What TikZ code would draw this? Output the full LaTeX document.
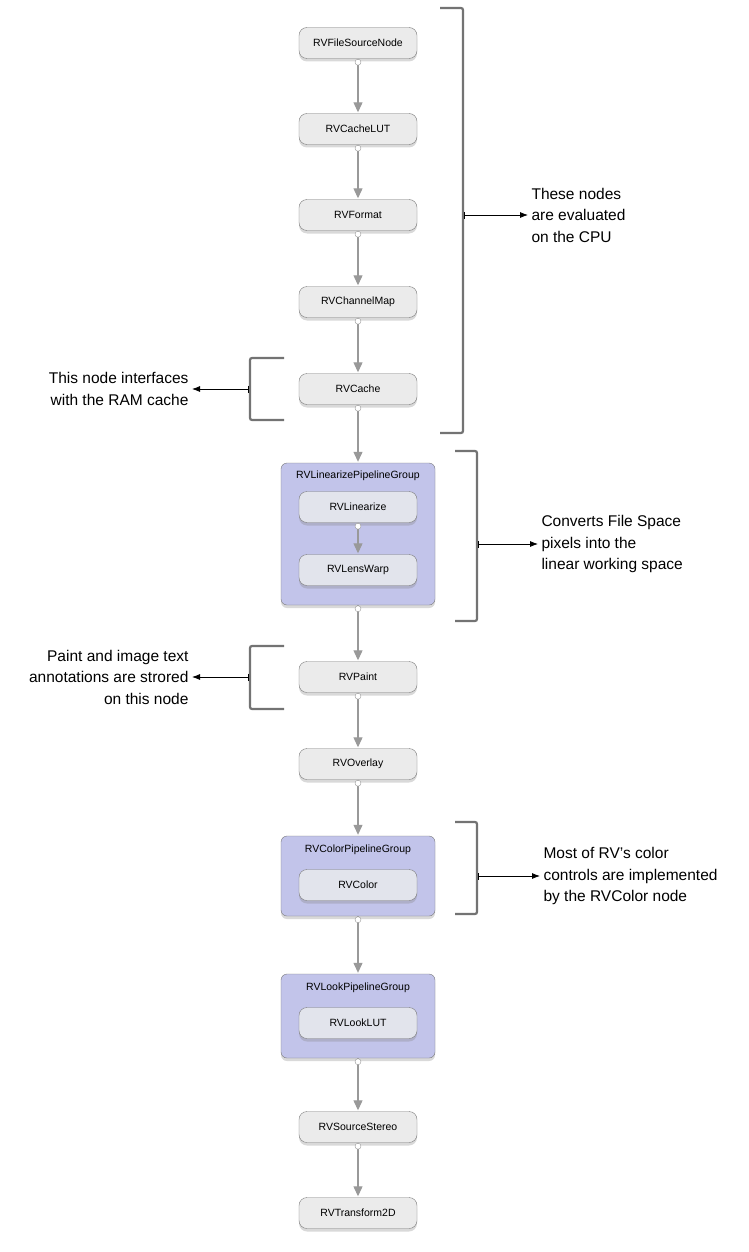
\documentclass[tikz,border=0pt]{standalone}
\usepackage{fontspec}
\setmainfont{Liberation Sans}
\usetikzlibrary{shadows,arrows.meta}
\definecolor{nodefill}{HTML}{EBEBEB}
\definecolor{innerfill}{HTML}{E2E4EC}
\definecolor{groupfill}{HTML}{C2C4EA}
\definecolor{edge}{HTML}{999999}
\tikzset{
  x=1pt,y=-1pt,
  rv/.style={draw=edge!80!black,fill=nodefill,rounded corners=8pt,minimum width=118pt,minimum height=31pt,font=\fontsize{10.5}{12}\selectfont,drop shadow={shadow xshift=0pt,shadow yshift=-3pt,opacity=0.3}},
  inner/.style={rv,fill=innerfill},
  grp/.style={draw=edge!80!black,fill=groupfill,rounded corners=6pt,minimum width=154pt,drop shadow={shadow xshift=0pt,shadow yshift=-3pt,opacity=0.3}},
  glabel/.style={font=\fontsize{10.5}{12}\selectfont},
  conn/.style={draw=edge,line width=1.2pt,-{Triangle[length=10pt,width=9pt]},shorten >=1pt},
  dot/.style={circle,draw=edge,fill=white,inner sep=0pt,minimum size=6pt},
  brk/.style={draw=black!55,line width=2.2pt,rounded corners=2pt},
  ann/.style={draw=black,line width=0.8pt,{Bar[width=7pt]}-{Latex[length=8pt]}},
  note/.style={font=\fontsize{15.5}{21.5}\selectfont,align=left},
}
\begin{document}
\begin{tikzpicture}
\useasboundingbox (0,0) rectangle (748,1252);
% groups
\node[grp,minimum height=142pt] (g1) at (358,534) {};
\node[grp,minimum height=80pt] (g2) at (358,876) {};
\node[grp,minimum height=84pt] (g3) at (358,1016) {};
\node[glabel] (g1l) at (358,476) {RVLinearizePipelineGroup};
\node[glabel] (g2l) at (358,850) {RVColorPipelineGroup};
\node[glabel] (g3l) at (358,988) {RVLookPipelineGroup};
% nodes
\node[rv] (n1) at (358,43) {RVFileSourceNode};
\node[rv] (n2) at (358,129) {RVCacheLUT};
\node[rv] (n3) at (358,215) {RVFormat};
\node[rv] (n4) at (358,302) {RVChannelMap};
\node[rv] (n5) at (358,389) {RVCache};
\node[inner] (n6) at (358,507) {RVLinearize};
\node[inner] (n7) at (358,570) {RVLensWarp};
\node[rv] (n8) at (358,677) {RVPaint};
\node[rv] (n9) at (358,764) {RVOverlay};
\node[inner] (n10) at (358,885) {RVColor};
\node[inner] (n11) at (358,1023) {RVLookLUT};
\node[rv] (n12) at (358,1127) {RVSourceStereo};
\node[rv] (n13) at (358,1213) {RVTransform2D};
% connectors
\foreach \a/\b in {n1/n2,n2/n3,n3/n4,n4/n5,n5/g1,n6/n7,g1/n8,n8/n9,n9/g2,g2/g3,g3/n12,n12/n13}{
  \draw[conn] (\a.south) -- (\b.north);
  \node[dot] at ([yshift=-3.5pt]\a.south) {};
}
% brackets
\draw[brk] (440,8) -- (463,8) -- (463,433) -- (440,433);
\draw[brk] (455,451) -- (477,451) -- (477,621) -- (455,621);
\draw[brk] (455,822) -- (477,822) -- (477,914) -- (455,914);
\draw[brk] (284,358) -- (250,358) -- (250,420) -- (284,420);
\draw[brk] (284,646) -- (250,646) -- (250,709) -- (284,709);
\coordinate (b1) at (464,215);
\coordinate (b2) at (478,544);
\coordinate (b3) at (478,876);
\coordinate (b4) at (249,389);
\coordinate (b5) at (249,677);
\node[note,anchor=west] (t1) at (528,215) {These nodes\\are evaluated\\on the CPU};
\node[note,anchor=west] (t2) at (538,544) {Converts File Space\\pixels into the\\linear working space};
\node[note,anchor=west] (t3) at (540,876) {Most of RV's color\\controls are implemented\\by the RVColor node};
\node[note,anchor=east,align=right] (t4) at (192,389) {This node interfaces\\with the RAM cache};
\node[note,anchor=east,align=right] (t5) at (192,677) {Paint and image text\\annotations are strored\\on this node};
\draw[ann] (b1) -- (t1.west);
\draw[ann] (b2) -- (t2.west);
\draw[ann] (b3) -- (t3.west);
\draw[ann] (b4) -- (t4.east);
\draw[ann] (b5) -- (t5.east);
\end{tikzpicture}
\end{document}
